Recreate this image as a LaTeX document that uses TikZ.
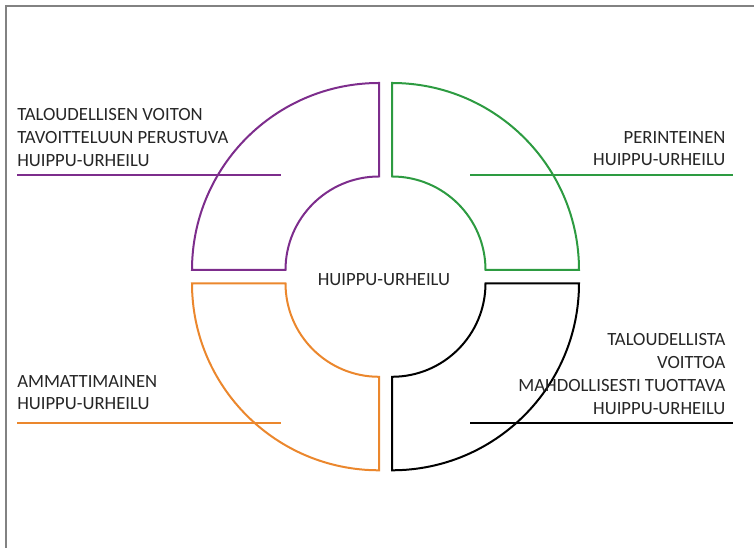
\documentclass[tikz,border=0pt]{standalone}
\usepackage{fontspec}
\setmainfont{Carlito}
\definecolor{ringpurple}{RGB}{125,45,140}
\definecolor{ringgreen}{RGB}{45,155,65}
\definecolor{ringorange}{RGB}{235,135,45}
\definecolor{ringblack}{RGB}{0,0,0}
\definecolor{labeltext}{RGB}{38,38,38}
\definecolor{framegray}{RGB}{130,130,130}
\begin{document}
\begin{tikzpicture}[x=0.75pt,y=0.75pt,
  ring/.style={line width=1.5pt, line join=miter},
  rulebar/.style={line width=1.5pt},
  lbl/.style={inner sep=0pt, font=\fontsize{14}{17}\selectfont, text=labeltext}]
\useasboundingbox (0,0) rectangle (754,548);
% page frame (top and left edges)
\draw[framegray, line width=1pt] (6,0) -- (6,542) -- (754,542);

% four quarter rings
\draw[ring, ringpurple] (379,465) arc[start angle=90, end angle=180, radius=187]
  -- (285.5,278) arc[start angle=180, end angle=90, radius=93.5] -- cycle;
\draw[ring, ringgreen] (392,465) arc[start angle=90, end angle=0, radius=187]
  -- (485.5,278) arc[start angle=0, end angle=90, radius=93.5] -- cycle;
\draw[ring, ringorange] (379,77.7) arc[start angle=270, end angle=180, radius=187]
  -- (285.5,264.7) arc[start angle=180, end angle=270, radius=93.5] -- cycle;
\draw[ring, ringblack] (392,77.7) arc[start angle=270, end angle=360, radius=187]
  -- (485.5,264.7) arc[start angle=360, end angle=270, radius=93.5] -- cycle;

% hub text
\node[lbl, anchor=base] (hub) at (384,262) {HUIPPU-URHEILU};

% top-left label
\node[lbl, anchor=base west] (tl1) at (17,427.3) {TALOUDELLISEN VOITON};
\node[lbl, anchor=base west] (tl2) at (17,404.6) {TAVOITTELUUN PERUSTUVA};
\node[lbl, anchor=base west] (tl3) at (17,381.9) {HUIPPU-URHEILU};
\coordinate (tlA) at (17,372.7);
\coordinate (tlB) at (281,372.7);
\draw[rulebar, ringpurple] (tlA) -- (tlB);

% top-right label
\node[lbl, anchor=base east] (tr1) at (725.7,404.3) {PERINTEINEN};
\node[lbl, anchor=base east] (tr2) at (725.7,382) {HUIPPU-URHEILU};
\coordinate (trA) at (470,372.7);
\coordinate (trB) at (733,372.7);
\draw[rulebar, ringgreen] (trA) -- (trB);

% bottom-left label
\node[lbl, anchor=base west] (bl1) at (17,160.3) {AMMATTIMAINEN};
\node[lbl, anchor=base west] (bl2) at (17,138) {HUIPPU-URHEILU};
\coordinate (blA) at (17,124.5);
\coordinate (blB) at (281,124.5);
\draw[rulebar, ringorange] (blA) -- (blB);

% bottom-right label
\node[lbl, anchor=base east] (br1) at (725.7,202) {TALOUDELLISTA};
\node[lbl, anchor=base east] (br2) at (725.7,179) {VOITTOA};
\node[lbl, anchor=base east] (br3) at (725.7,156) {MAHDOLLISESTI TUOTTAVA};
\node[lbl, anchor=base east] (br4) at (725.7,133.7) {HUIPPU-URHEILU};
\coordinate (brA) at (470,124.5);
\coordinate (brB) at (733,124.5);
\draw[rulebar, ringblack] (brA) -- (brB);
\end{tikzpicture}
\end{document}
